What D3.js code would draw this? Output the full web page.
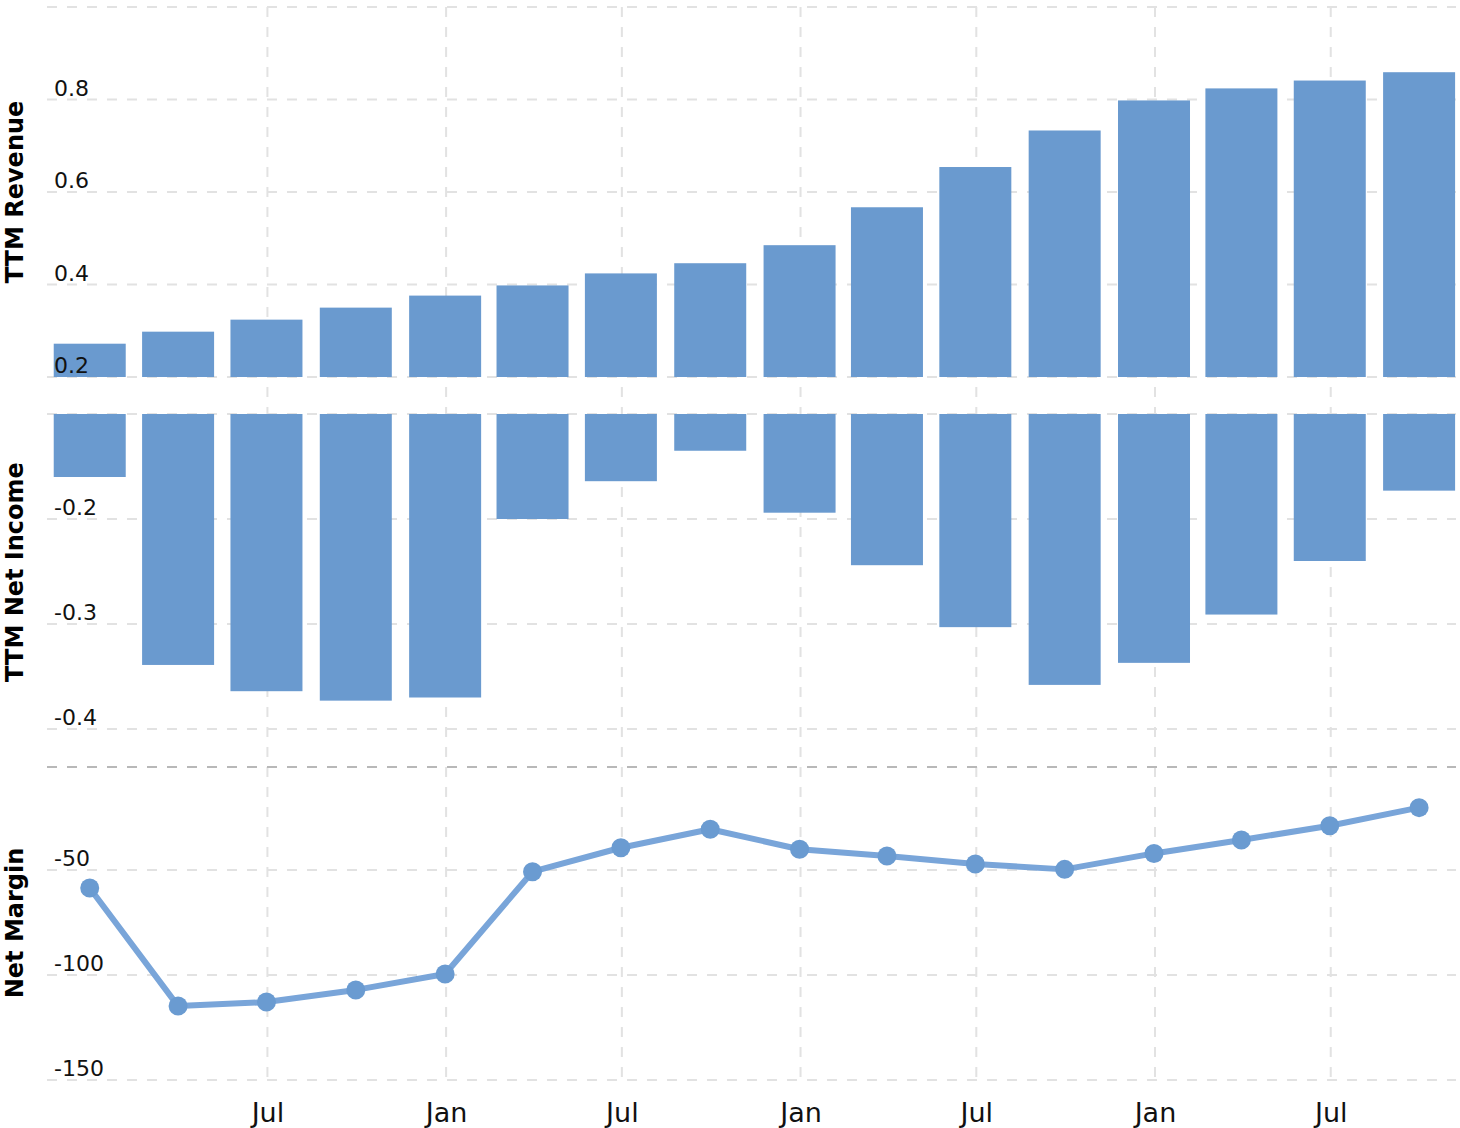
<!DOCTYPE html>
<html><head><meta charset="utf-8">
<script src="https://cdn.jsdelivr.net/npm/d3@7"></script>
<style>
html,body{margin:0;padding:0;background:#fff;}
svg{display:block;font-family:"DejaVu Sans",Verdana,sans-serif;}
</style></head>
<body>
<svg id="chart" width="1460" height="1128"></svg>
<script>
// ---- data ----
const quarters = ["2019-12-31","2020-03-31","2020-06-30","2020-09-30","2020-12-31","2021-03-31","2021-06-30","2021-09-30",
                  "2021-12-31","2022-03-31","2022-06-30","2022-09-30","2022-12-31","2023-03-31","2023-06-30","2023-09-30"];
const ttmRevenue = [0.272,0.298,0.324,0.350,0.376,0.398,0.424,0.446,0.485,0.567,0.654,0.733,0.798,0.824,0.841,0.859];
const ttmNetIncome = [-0.160,-0.339,-0.364,-0.373,-0.370,-0.200,-0.164,-0.135,-0.194,-0.244,-0.303,-0.358,-0.337,-0.291,-0.240,-0.173];
const netMargin = [-58.6,-114.8,-112.9,-107.1,-99.5,-50.8,-39.4,-30.6,-40.1,-43.3,-47.1,-49.7,-42.1,-35.7,-28.9,-20.3];
const xTickDates = ["2020-07-01","2021-01-01","2021-07-01","2022-01-01","2022-07-01","2023-01-01","2023-07-01"];
const revTicks = [1.0,0.8,0.6,0.4,0.2];
const revTickLabels = ["","0.8","0.6","0.4","0.2"];
const niTicks = [-0.1,-0.2,-0.3,-0.4];
const niTickLabels = ["","-0.2","-0.3","-0.4"];
const nmTicks = [-50,-100,-150];
const nmTickLabels = ["-50","-100","-150"];
const axisTitles = ["TTM Revenue","TTM Net Income","Net Margin"];

const parse = d3.timeParse("%Y-%m-%d");
const dates = quarters.map(parse);
const tickDates = xTickDates.map(parse);

const svg = d3.select("#chart");
const left = 47, right = 1456;
const x = d3.scaleTime().domain([parse("2019-11-17"), parse("2023-11-07")]).range([left, right]);
const yRev = d3.scaleLinear().domain([0.2, 1.0]).range([377, 7]);
const yNI = d3.scaleLinear().domain([-0.1, -0.4]).range([414, 729]);
const yNM = d3.scaleLinear().domain([-150, -50]).range([1080, 870]);

const gridColor = "#e2e2e2";
const barColor = "#6a9acf";
const barW = 72;

// horizontal grid lines
function hgrid(ticks, scale) {
  svg.append("g").selectAll("line").data(ticks).join("line")
    .attr("x1", left).attr("x2", right)
    .attr("y1", d => scale(d)).attr("y2", d => scale(d))
    .attr("stroke", gridColor).attr("stroke-width", 2).attr("stroke-dasharray", "10,10");
}
hgrid(revTicks, yRev);
hgrid(niTicks, yNI);
hgrid(nmTicks, yNM);

// vertical grid lines
svg.append("g").selectAll("line").data(tickDates).join("line")
  .attr("x1", d => x(d)).attr("x2", d => x(d))
  .attr("y1", yRev(1.0)).attr("y2", yNM(-150))
  .attr("stroke", gridColor).attr("stroke-width", 2).attr("stroke-dasharray", "10,10");

// separator
svg.append("line")
  .attr("x1", left).attr("x2", right).attr("y1", yNM(-1)).attr("y2", yNM(-1))
  .attr("stroke", "#b8b8b8").attr("stroke-width", 2).attr("stroke-dasharray", "10,10");

// revenue bars
svg.append("g").selectAll("rect").data(ttmRevenue).join("rect")
  .attr("x", (d, i) => x(dates[i]) - barW / 2)
  .attr("width", barW)
  .attr("y", d => yRev(d))
  .attr("height", d => yRev(0.2) - yRev(d))
  .attr("fill", barColor);

// net income bars
svg.append("g").selectAll("rect").data(ttmNetIncome).join("rect")
  .attr("x", (d, i) => x(dates[i]) - barW / 2)
  .attr("width", barW)
  .attr("y", yNI(-0.1))
  .attr("height", d => yNI(d) - yNI(-0.1))
  .attr("fill", barColor);

// net margin line
const line = d3.line().x((d, i) => x(dates[i])).y(d => yNM(d));
svg.append("path").datum(netMargin)
  .attr("d", line).attr("fill", "none")
  .attr("stroke", "#79a5d9").attr("stroke-width", 6).attr("stroke-linejoin", "round");
svg.append("g").selectAll("circle").data(netMargin).join("circle")
  .attr("cx", (d, i) => x(dates[i])).attr("cy", d => yNM(d))
  .attr("r", 9.5).attr("fill", "#6a9bd1");

// y tick labels
function ylabels(ticks, labels, scale) {
  svg.append("g").selectAll("text").data(ticks).join("text")
    .attr("x", 54).attr("y", d => scale(d) - 4)
    .attr("font-size", 22).attr("fill", "#111")
    .text((d, i) => labels[i]);
}
ylabels(revTicks, revTickLabels, yRev);
ylabels(niTicks, niTickLabels, yNI);
ylabels(nmTicks, nmTickLabels, yNM);

// x axis
const xAxis = d3.axisBottom(x).tickValues(tickDates).tickFormat(d3.timeFormat("%b")).tickSize(0).tickPadding(0);
const gx = svg.append("g").attr("transform", "translate(0,1122)").call(xAxis);
gx.select(".domain").remove();
gx.selectAll("text").attr("font-size", 27).attr("fill", "#111")
  .attr("font-family", "DejaVu Sans").attr("dy", 0).attr("y", 0);

// axis titles
const titleCenters = [(yRev(0.2) + yRev(1.0)) / 2 + 0, (yNI(-0.1) + yNI(-0.4)) / 2, (yNM(-150) + yNM(-50)) / 2];
const titlePos = [192, 572, 923];
svg.append("g").selectAll("text").data(axisTitles).join("text")
  .attr("transform", (d, i) => `translate(23,${titlePos[i]}) rotate(-90)`)
  .attr("text-anchor", "middle")
  .attr("font-size", 24).attr("font-weight", "bold").attr("fill", "#000")
  .text(d => d);
</script>
</body></html>
